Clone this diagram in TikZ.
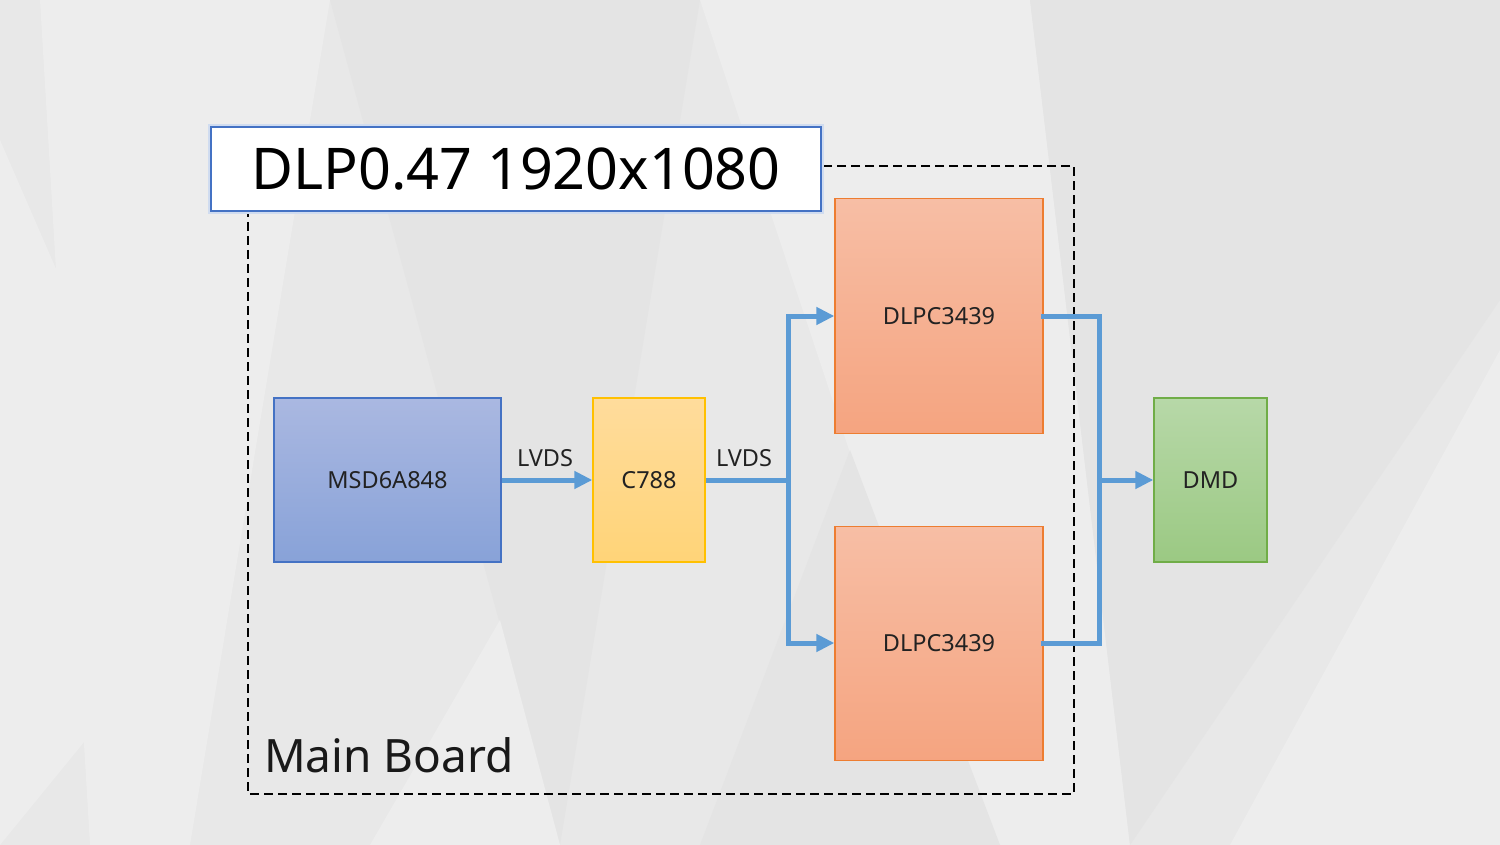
\documentclass[tikz,border=0pt]{standalone}
\usepackage{fontspec}
\setmainfont{Noto Sans}
\usetikzlibrary{arrows.meta}
\definecolor{bg}{HTML}{E8E8E8}
\definecolor{bgl}{HTML}{EDEDED}
\definecolor{bgd}{HTML}{E4E4E4}
\definecolor{wire}{HTML}{5B9BD5}
\definecolor{blueT}{HTML}{AAB8E1}
\definecolor{blueB}{HTML}{88A2D8}
\definecolor{blueE}{HTML}{4472C4}
\definecolor{yelT}{HTML}{FFDC9C}
\definecolor{yelB}{HTML}{FFD478}
\definecolor{yelE}{HTML}{FFC000}
\definecolor{salT}{HTML}{F7BEA5}
\definecolor{salB}{HTML}{F5A480}
\definecolor{salE}{HTML}{ED7D31}
\definecolor{grnT}{HTML}{B7D8A8}
\definecolor{grnB}{HTML}{9BC983}
\definecolor{grnE}{HTML}{70AD47}
\definecolor{txt}{HTML}{222222}
\begin{document}
\begin{tikzpicture}[x=1pt,y=-1pt,
  blk/.style={draw, line width=1.3pt, inner sep=0pt, font=\fontsize{23.5}{26}\selectfont, text=txt},
  wireline/.style={draw=wire, line width=5pt},
  wirearrow/.style={wireline, -{Triangle[length=18pt,width=17pt]}},
  lbl/.style={font=\fontsize{23.5}{26}\selectfont, text=txt, inner sep=0pt}
]
\useasboundingbox (0,0) rectangle (1500,845);
\fill[bg] (0,0) rectangle (1500,845);
% background facets
\fill[bgl] (40,0) -- (330,0) -- (190,845) -- (90,845) -- cycle;
\fill[bgl] (0,140) -- (200,600) -- (0,845) -- cycle;
\fill[bgd] (330,0) -- (700,0) -- (560,845) -- cycle;
\fill[bgl] (700,0) -- (1030,0) -- (1130,845) -- (980,845) -- cycle;
\fill[bgd] (1030,0) -- (1500,0) -- (1500,300) -- (1130,845) -- cycle;
\fill[bgl] (1230,845) -- (1500,350) -- (1500,845) -- cycle;
\fill[bgd] (850,450) -- (1000,845) -- (700,845) -- cycle;
\fill[bgl] (370,845) -- (500,620) -- (560,845) -- cycle;

% main board frame
\draw[line width=1.8pt, dash pattern=on 9pt off 5pt] (248,166) rectangle (1074,794);
\node[anchor=west, font=\fontsize{46}{52}\selectfont, text=black!90, inner sep=0pt] (mb) at (264,755) {Main Board};

% title
\draw[blueE!25, line width=6pt] (211,127) rectangle (821,211);
\node[draw=blueE, line width=2.5pt, fill=white, minimum width=610pt, minimum height=84pt, inner sep=0pt,
  font=\fontsize{57.5}{64}\selectfont, text=black] (title) at (516,169) {DLP0.47 1920x1080};

% blocks
\node[blk, draw=blueE, top color=blueT, bottom color=blueB, minimum width=227pt, minimum height=164pt] (msd) at (387.5,480) {MSD6A848};
\node[blk, draw=yelE, top color=yelT, bottom color=yelB, minimum width=112pt, minimum height=164pt] (c788) at (649,480) {C788};
\node[blk, draw=salE, top color=salT, bottom color=salB, minimum width=208pt, minimum height=235pt, anchor=north] (d1) at (939,198) {};
\node[lbl] (d1t) at (939,316) {DLPC3439};
\node[blk, draw=salE, top color=salT, bottom color=salB, minimum width=208pt, minimum height=234pt, anchor=north] (d2) at (939,526) {};
\node[lbl] (d2t) at (939,643) {DLPC3439};
\node[blk, draw=grnE, top color=grnT, bottom color=grnB, minimum width=113pt, minimum height=164pt] (dmd) at (1210.5,480) {DMD};

% wires
\coordinate (sj) at (788,480);
\coordinate (mj) at (1099,480);
\draw[wirearrow] (msd.east) -- (c788.west);
\node[lbl] (l1) at (545,458) {LVDS};
\node[lbl] (l2) at (744,458) {LVDS};
\draw[wireline] (c788.east) -- (sj);
\draw[wirearrow] (sj) |- (d1.west |- d1t);
\draw[wirearrow] (sj) |- (d2.west |- d2t);
\draw[wireline, line cap=rect] (d1.east |- d1t) -| (mj);
\draw[wireline, line cap=rect] (d2.east |- d2t) -| (mj);
\draw[wirearrow] (mj) -- (dmd.west);
\end{tikzpicture}
\end{document}
